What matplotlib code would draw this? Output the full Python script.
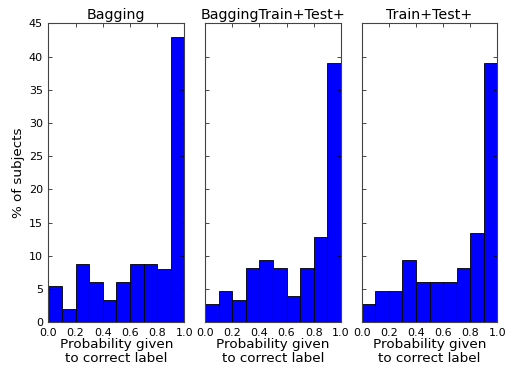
import matplotlib

matplotlib.use("Agg")
import matplotlib.pyplot as plt

bin_edges = [0.0, 0.1, 0.2, 0.3, 0.4, 0.5, 0.6, 0.7, 0.8, 0.9]
titles = ["Bagging", "BaggingTrain+Test+", "Train+Test+"]
bagging = [5.4, 2.0, 8.7, 6.0, 3.3, 6.0, 8.7, 8.7, 8.0, 43.0]
bagging_train_test = [2.7, 4.7, 3.3, 8.1, 9.4, 8.1, 4.0, 8.1, 12.8, 39.0]
train_test = [2.7, 4.7, 4.7, 9.4, 6.0, 6.0, 6.0, 8.1, 13.5, 39.0]
series = [bagging, bagging_train_test, train_test]

plt.rcParams["font.family"] = "DejaVu Sans"

fig, axes = plt.subplots(1, 3, figsize=(5.15, 3.7), dpi=100, sharey=True)
fig.subplots_adjust(left=0.094, right=0.966, top=0.937, bottom=0.129, wspace=0.152)

for ax, title, values in zip(axes, titles, series):
    ax.bar(bin_edges, values, width=0.1, align="edge", color="#0000ff",
           edgecolor="black", linewidth=0.6)
    ax.set_xlim(0, 1)
    ax.set_ylim(0, 45)
    ax.set_xticks([0.0, 0.2, 0.4, 0.6, 0.8, 1.0])
    ax.set_yticks(range(0, 46, 5))
    ax.set_title(title, fontsize=10.2, pad=3)
    ax.set_xlabel("Probability given\nto correct label", fontsize=9.7, labelpad=0,
                  linespacing=1.1)
    ax.tick_params(direction="in", top=True, right=True, labelsize=8,
                   length=3, width=0.5, pad=4)
    for spine in ax.spines.values():
        spine.set_linewidth(0.8)
        spine.set_color("#444444")

axes[0].set_ylabel("% of subjects", fontsize=9.7)
axes[0].yaxis.set_label_coords(-0.17, 0.5)

fig.savefig("out.png", dpi=100, facecolor="white")
